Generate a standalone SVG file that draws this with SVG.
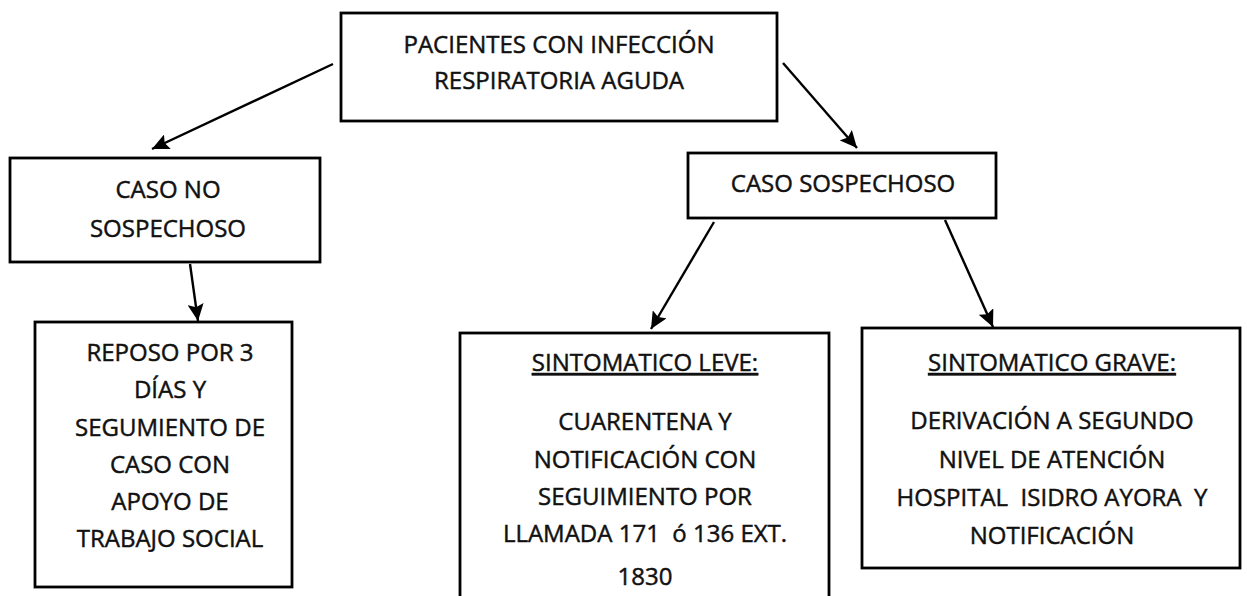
<svg xmlns="http://www.w3.org/2000/svg" width="1247" height="596" viewBox="0 0 1247 596">
<style>
.box{fill:#fff;stroke:#000;stroke-width:2.8}
.t{font-family:"Open Sans","Liberation Sans",sans-serif;font-size:24px;fill:#111;stroke:#111;stroke-width:0.45;text-anchor:middle}
.u{text-decoration:underline}
.c{stroke:#000;stroke-width:2.4;fill:none;marker-end:url(#ah)}
</style>
<defs>
<marker id="ah" markerUnits="userSpaceOnUse" markerWidth="20" markerHeight="16" refX="17" refY="8" orient="auto">
<path d="M0,0 L17,8 L0,16 L3,8 Z" fill="#000"/>
</marker>
</defs>
<rect width="1247" height="596" fill="#fff"/>
<g id="connectors">
<line class="c" x1="333" y1="64" x2="152" y2="149"/>
<line class="c" x1="783" y1="63" x2="857" y2="148"/>
<line class="c" x1="190" y1="264" x2="198" y2="321"/>
<line class="c" x1="714" y1="222" x2="651" y2="329"/>
<line class="c" x1="945" y1="220" x2="993" y2="327"/>
</g>
<g id="n-pacientes">
<rect class="box" x="341" y="13" width="436" height="108"/>
<text class="t" x="559" y="53">PACIENTES CON INFECCIÓN</text>
<text class="t" x="559" y="89">RESPIRATORIA AGUDA</text>
</g>
<g id="n-no-sospechoso">
<rect class="box" x="10" y="158" width="310" height="104"/>
<text class="t" x="168" y="198">CASO NO</text>
<text class="t" x="168" y="237">SOSPECHOSO</text>
</g>
<g id="n-sospechoso">
<rect class="box" x="688" y="153" width="308" height="65"/>
<text class="t" x="843" y="192">CASO SOSPECHOSO</text>
</g>
<g id="n-reposo">
<rect class="box" x="35" y="322" width="257" height="265"/>
<text class="t" x="170" y="361">REPOSO POR 3</text>
<text class="t" x="170" y="398">DÍAS Y</text>
<text class="t" x="170" y="436">SEGUMIENTO DE</text>
<text class="t" x="170" y="473">CASO CON</text>
<text class="t" x="170" y="510">APOYO DE</text>
<text class="t" x="170" y="547">TRABAJO SOCIAL</text>
</g>
<g id="n-leve">
<rect class="box" x="460" y="333" width="369" height="300"/>
<text class="t u" x="645" y="371">SINTOMATICO LEVE:</text>
<text class="t" x="645" y="430">CUARENTENA Y</text>
<text class="t" x="645" y="468">NOTIFICACIÓN CON</text>
<text class="t" x="645" y="505">SEGUIMIENTO POR</text>
<text class="t" x="645" y="542" xml:space="preserve">LLAMADA 171  ó 136 EXT.</text>
<text class="t" x="645" y="585">1830</text>
</g>
<g id="n-grave">
<rect class="box" x="862" y="328" width="378" height="240"/>
<text class="t u" x="1052" y="371">SINTOMATICO GRAVE:</text>
<text class="t" x="1052" y="429">DERIVACIÓN A SEGUNDO</text>
<text class="t" x="1052" y="468">NIVEL DE ATENCIÓN</text>
<text class="t" x="1052" y="506" xml:space="preserve">HOSPITAL  ISIDRO AYORA  Y</text>
<text class="t" x="1052" y="544">NOTIFICACIÓN</text>
</g>
</svg>
